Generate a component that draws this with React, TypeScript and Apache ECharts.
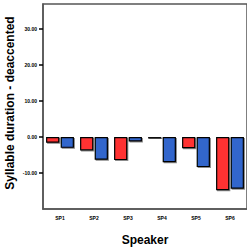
import React, { useEffect, useRef } from "react";
import * as echarts from "echarts";

const categories = ["SP1", "SP2", "SP3", "SP4", "SP5", "SP6"];
const redValues = [-1.6, -3.7, -6.4, -0.4, -3.1, -14.8];
const blueValues = [-3.0, -6.3, -1.25, -7.0, -8.35, -14.35];
const yTicks = [-10, 0, 10, 20, 30];
const yTitle = "Syllable duration - deaccented";
const xTitle = "Speaker";

export default function App() {
  const ref = useRef<HTMLDivElement>(null);
  useEffect(() => {
    document.body.style.margin = "0";
    const chart = echarts.init(ref.current!, null, { renderer: "svg" });
    const barStyle = (color: string) => ({
      color,
      borderColor: "#000",
      borderWidth: 1.2,
      shadowColor: "rgba(0,0,0,0.45)",
      shadowOffsetX: 1,
      shadowOffsetY: 1,
      shadowBlur: 0,
    });
    chart.setOption({
      animation: false,
      graphic: [
        {
          type: "text",
          x: 4,
          y: 103,
          rotation: Math.PI / 2,
          style: {
            text: yTitle,
            fontFamily: "Liberation Sans",
            fontWeight: "bold",
            fontSize: 12,
            fill: "#000",
            align: "center",
            verticalAlign: "top",
          },
        },
      ],
      grid: {
        left: 43,
        top: 4,
        width: 206,
        height: 206,
        show: true,
        borderColor: "#555",
        borderWidth: 1.5,
        backgroundColor: "transparent",
      },
      xAxis: {
        type: "category",
        data: categories,
        position: "bottom",
        name: xTitle,
        nameLocation: "middle",
        nameGap: 25,
        nameTextStyle: {
          fontFamily: "Liberation Sans",
          fontWeight: "bold",
          fontSize: 12,
          color: "#000",
        },
        axisLine: { onZero: false, lineStyle: { color: "#555", width: 1.5 } },
        axisTick: { alignWithLabel: true, length: 4, lineStyle: { color: "#000", width: 1.5 } },
        axisLabel: {
          fontFamily: "Liberation Sans",
          fontWeight: "bold",
          fontSize: 5,
          color: "#000",
          margin: 6,
        },
      },
      yAxis: {
        type: "value",
        min: -20,
        max: 37,
        interval: 10,
        splitLine: { show: false },
        axisLine: { show: true, lineStyle: { color: "#555", width: 1.5 } },
        axisTick: {
          show: true,
          length: 4,
          customValues: yTicks,
          lineStyle: { color: "#000", width: 1.5 },
        },
        axisLabel: {
          customValues: yTicks,
          formatter: (v: number) => v.toFixed(2),
          fontFamily: "Liberation Sans",
          fontWeight: "bold",
          fontSize: 5,
          color: "#000",
          margin: 6,
        },
      },
      series: [
        {
          type: "bar",
          data: redValues,
          barWidth: "39%",
          barGap: "10%",
          itemStyle: barStyle("#ff3333"),
        },
        {
          type: "bar",
          data: blueValues,
          barWidth: "39%",
          itemStyle: barStyle("#3366cc"),
        },
      ],
    });
    return () => chart.dispose();
  }, []);
  return <div ref={ref} style={{ width: 247, height: 251 }} />;
}
